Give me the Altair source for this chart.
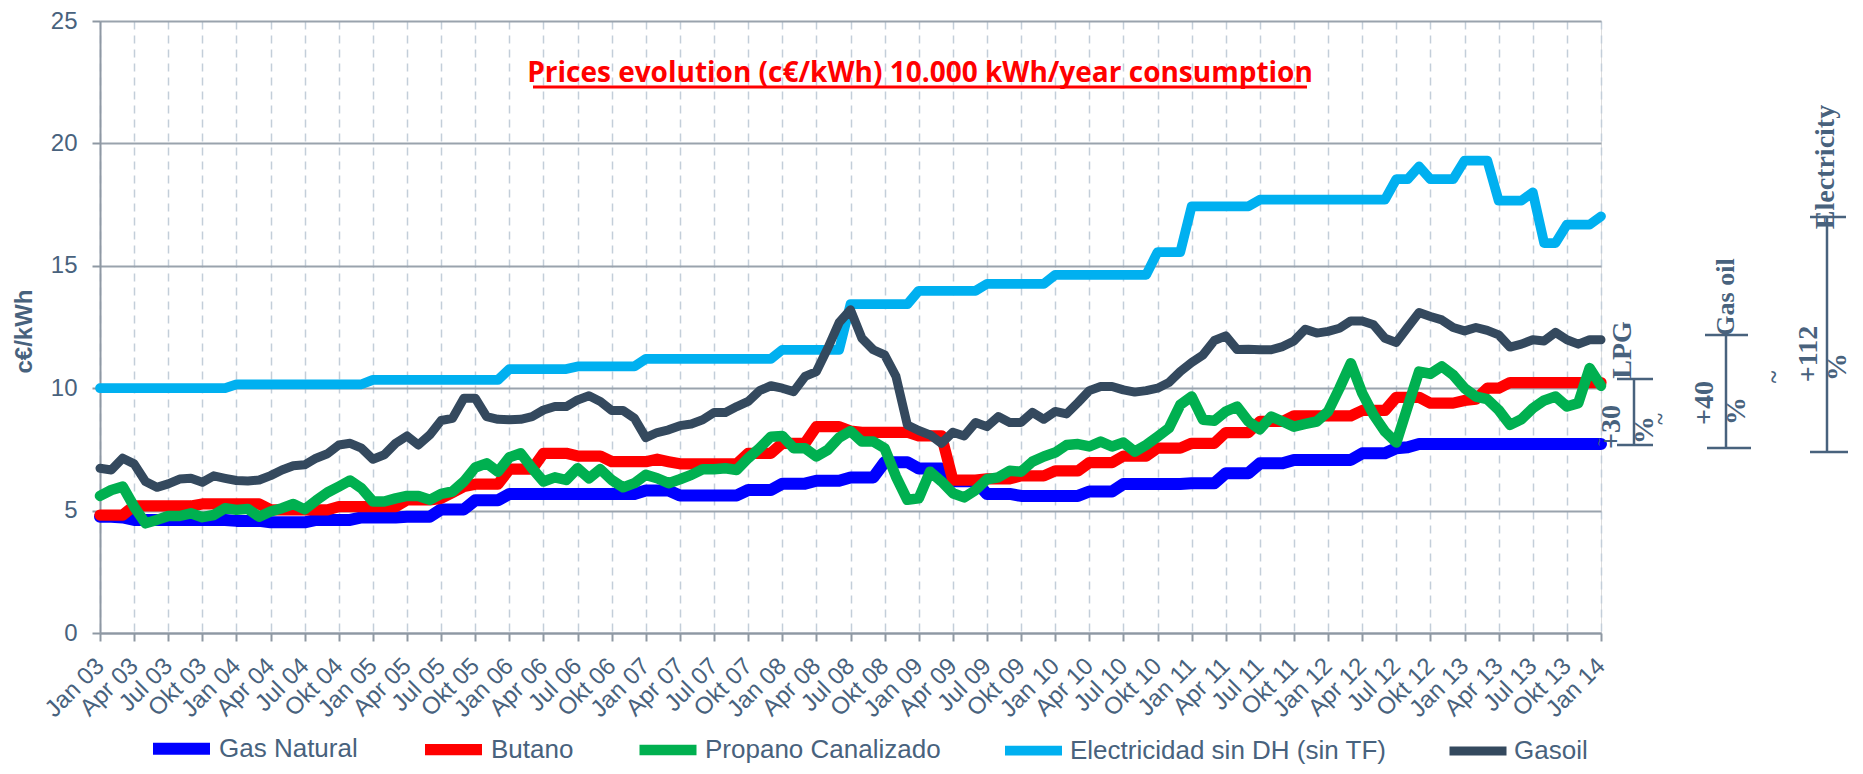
import altair as alt
import pandas as pd

# ---------------- data ----------------
tick_labels = [
    "Jan 03", "Apr 03", "Jul 03", "Okt 03", "Jan 04", "Apr 04", "Jul 04", "Okt 04",
    "Jan 05", "Apr 05", "Jul 05", "Okt 05", "Jan 06", "Apr 06", "Jul 06", "Okt 06",
    "Jan 07", "Apr 07", "Jul 07", "Okt 07", "Jan 08", "Apr 08", "Jul 08", "Okt 08",
    "Jan 09", "Apr 09", "Jul 09", "Okt 09", "Jan 10", "Apr 10", "Jul 10", "Okt 10",
    "Jan 11", "Apr 11", "Jul 11", "Okt 11", "Jan 12", "Apr 12", "Jul 12", "Okt 12",
    "Jan 13", "Apr 13", "Jul 13", "Okt 13", "Jan 14",
]

series_names = ["Gas Natural", "Butano", "Propano Canalizado",
                "Electricidad sin DH (sin TF)", "Gasoil"]

# monthly values, Jan 03 ... Jan 14 (133 months), one row per year
gas_natural = [
    4.75, 4.75, 4.72, 4.62, 4.62, 4.62, 4.62, 4.62, 4.62, 4.62, 4.62, 4.62,
    4.58, 4.58, 4.58, 4.52, 4.52, 4.52, 4.52, 4.62, 4.62, 4.62, 4.62, 4.72,
    4.72, 4.72, 4.72, 4.75, 4.75, 4.75, 5.05, 5.05, 5.05, 5.42, 5.42, 5.42,
    5.68, 5.68, 5.68, 5.68, 5.68, 5.68, 5.68, 5.68, 5.68, 5.68, 5.68, 5.68,
    5.82, 5.82, 5.82, 5.62, 5.62, 5.62, 5.62, 5.62, 5.62, 5.84, 5.84, 5.84,
    6.10, 6.10, 6.10, 6.22, 6.22, 6.22, 6.35, 6.35, 6.35, 6.98, 6.98, 6.98,
    6.72, 6.72, 6.72, 6.20, 6.20, 6.20, 5.68, 5.68, 5.68, 5.60, 5.60, 5.60,
    5.60, 5.60, 5.60, 5.78, 5.78, 5.78, 6.09, 6.09, 6.09, 6.09, 6.09, 6.09,
    6.12, 6.12, 6.12, 6.53, 6.53, 6.53, 6.93, 6.93, 6.93, 7.07, 7.07, 7.07,
    7.07, 7.07, 7.07, 7.34, 7.34, 7.34, 7.55, 7.59, 7.72, 7.72, 7.72, 7.72,
    7.72, 7.72, 7.72, 7.72, 7.72, 7.72, 7.72, 7.72, 7.72, 7.72, 7.72, 7.72,
    7.72,
]
butano = [
    4.82, 4.82, 4.82, 5.19, 5.19, 5.19, 5.19, 5.19, 5.19, 5.27, 5.27, 5.27,
    5.27, 5.27, 5.27, 5.03, 5.03, 5.03, 5.03, 5.03, 5.03, 5.16, 5.16, 5.16,
    5.16, 5.16, 5.16, 5.44, 5.44, 5.44, 5.50, 5.74, 5.98, 6.08, 6.08, 6.08,
    6.69, 6.69, 6.69, 7.34, 7.34, 7.34, 7.23, 7.23, 7.23, 7.00, 7.00, 7.00,
    7.00, 7.10, 7.00, 6.91, 6.91, 6.91, 6.91, 6.91, 6.91, 7.34, 7.34, 7.34,
    7.75, 7.75, 7.75, 8.43, 8.43, 8.43, 8.25, 8.20, 8.20, 8.20, 8.20, 8.20,
    8.05, 8.05, 8.05, 6.25, 6.25, 6.25, 6.30, 6.30, 6.30, 6.42, 6.42, 6.42,
    6.62, 6.62, 6.62, 6.96, 6.96, 6.96, 7.23, 7.23, 7.23, 7.55, 7.55, 7.55,
    7.75, 7.75, 7.75, 8.19, 8.19, 8.19, 8.64, 8.64, 8.64, 8.87, 8.87, 8.87,
    8.87, 8.87, 8.87, 9.09, 9.09, 9.09, 9.63, 9.63, 9.63, 9.39, 9.39, 9.39,
    9.50, 9.55, 10.0, 10.0, 10.23, 10.23, 10.23, 10.23, 10.23, 10.23, 10.23, 10.23,
    10.23,
]
propano = [
    5.60, 5.84, 5.98, 5.16, 4.48, 4.62, 4.78, 4.78, 4.89, 4.73, 4.82, 5.10,
    5.03, 5.07, 4.75, 4.96, 5.10, 5.27, 5.05, 5.41, 5.74, 5.98, 6.23, 5.91,
    5.37, 5.37, 5.50, 5.60, 5.60, 5.44, 5.68, 5.78, 6.19, 6.76, 6.93, 6.59,
    7.18, 7.34, 6.73, 6.19, 6.36, 6.25, 6.73, 6.32, 6.69, 6.25, 5.95, 6.12,
    6.46, 6.32, 6.12, 6.28, 6.46, 6.69, 6.69, 6.73, 6.66, 7.14, 7.55, 8.02,
    8.05, 7.55, 7.55, 7.21, 7.48, 7.98, 8.25, 7.82, 7.82, 7.55, 6.39, 5.44,
    5.50, 6.59, 6.19, 5.71, 5.54, 5.84, 6.28, 6.36, 6.63, 6.59, 7.00, 7.21,
    7.37, 7.68, 7.72, 7.62, 7.82, 7.62, 7.78, 7.41, 7.68, 8.02, 8.37, 9.32,
    9.66, 8.71, 8.67, 9.05, 9.25, 8.64, 8.32, 8.84, 8.64, 8.43, 8.54, 8.64,
    9.05, 10.0, 11.02, 9.80, 8.91, 8.23, 7.78, 9.25, 10.68, 10.59, 10.89, 10.54,
    10.0, 9.66, 9.55, 9.11, 8.50, 8.73, 9.18, 9.50, 9.66, 9.25, 9.39, 10.82,
    10.10,
]
electricidad = [
    10.0, 10.0, 10.0, 10.0, 10.0, 10.0, 10.0, 10.0, 10.0, 10.0, 10.0, 10.0,
    10.16, 10.16, 10.16, 10.16, 10.16, 10.16, 10.16, 10.16, 10.16, 10.16, 10.16, 10.16,
    10.34, 10.34, 10.34, 10.34, 10.34, 10.34, 10.34, 10.34, 10.34, 10.34, 10.34, 10.34,
    10.78, 10.78, 10.78, 10.78, 10.78, 10.78, 10.89, 10.89, 10.89, 10.89, 10.89, 10.89,
    11.2, 11.2, 11.2, 11.2, 11.2, 11.2, 11.2, 11.2, 11.2, 11.2, 11.2, 11.2,
    11.57, 11.57, 11.57, 11.57, 11.57, 11.57, 13.43, 13.43, 13.43, 13.43, 13.43, 13.43,
    13.98, 13.98, 13.98, 13.98, 13.98, 13.98, 14.26, 14.26, 14.26, 14.26, 14.26, 14.26,
    14.63, 14.63, 14.63, 14.63, 14.63, 14.63, 14.63, 14.63, 14.63, 15.56, 15.56, 15.56,
    17.43, 17.43, 17.43, 17.43, 17.43, 17.43, 17.7, 17.7, 17.7, 17.7, 17.7, 17.7,
    17.7, 17.7, 17.7, 17.7, 17.7, 17.7, 18.54, 18.54, 19.06, 18.54, 18.54, 18.54,
    19.3, 19.3, 19.3, 17.66, 17.66, 17.66, 18.0, 15.93, 15.93, 16.68, 16.68, 16.68,
    17.02,
]
gasoil = [
    6.73, 6.66, 7.14, 6.91, 6.19, 5.95, 6.09, 6.29, 6.32, 6.16, 6.42, 6.32,
    6.23, 6.21, 6.25, 6.43, 6.66, 6.83, 6.87, 7.14, 7.32, 7.68, 7.75, 7.55,
    7.10, 7.28, 7.75, 8.05, 7.68, 8.09, 8.68, 8.77, 9.59, 9.59, 8.84, 8.73,
    8.71, 8.73, 8.84, 9.11, 9.25, 9.25, 9.52, 9.69, 9.46, 9.09, 9.09, 8.77,
    7.98, 8.19, 8.30, 8.47, 8.54, 8.71, 9.01, 9.01, 9.25, 9.46, 9.90, 10.10,
    10.0, 9.86, 10.48, 10.68, 11.63, 12.68, 13.2, 12.04, 11.57, 11.36, 10.48, 8.50,
    8.27, 8.09, 7.75, 8.20, 8.05, 8.60, 8.43, 8.84, 8.60, 8.60, 9.01, 8.73,
    9.05, 8.95, 9.41, 9.90, 10.07, 10.07, 9.93, 9.84, 9.90, 10.0, 10.23, 10.68,
    11.05, 11.36, 11.95, 12.14, 11.58, 11.59, 11.57, 11.57, 11.70, 11.93, 12.41, 12.25,
    12.32, 12.45, 12.75, 12.75, 12.59, 12.04, 11.87, 12.49, 13.09, 12.93, 12.79, 12.48,
    12.34, 12.48, 12.36, 12.18, 11.68, 11.80, 11.98, 11.93, 12.28, 11.98, 11.80, 11.98,
    11.98,
]

title_text = " Prices evolution (c€/kWh) 10.000 kWh/year consumption"
y_title = "c€/kWh"

# ---------------- style ----------------
colors = ["#0000FF", "#FF0000", "#00B050", "#00B0F0", "#34495E"]
widths = [12, 9, 7, 8, 7]
SLATE = "#48627D"
AXIS_GRAY = "#8E98A3"
GRID_GRAY = "#9AA3AD"
VGRID = "#C3CED9"

rows = []
for name, vals in zip(series_names, [gas_natural, butano, propano, electricidad, gasoil]):
    for i, v in enumerate(vals):
        rows.append({"serie": name, "mes": i, "valor": v})
df = pd.DataFrame(rows)

label_js = "[" + ",".join("'" + t + "'" for t in tick_labels) + "]"
n_last = len(gas_natural) - 1

lines = alt.Chart(df).mark_line(strokeJoin="round", strokeCap="round").encode(
    x=alt.X(
        "mes:Q",
        scale=alt.Scale(domain=[0, n_last], nice=False, zero=False),
        axis=alt.Axis(
            values=list(range(0, n_last + 1, 3)),
            labelExpr=label_js + "[round(datum.value / 3)]",
            title=None,
            labelAngle=315,
            labelAlign="right",
            labelBaseline="middle",
            labelPadding=21,
            labelFont="Liberation Sans",
            labelFontSize=24,
            labelColor=SLATE,
            labelOverlap=False,
            labelFlush=False,
            tickSize=8,
            tickColor=AXIS_GRAY,
            tickWidth=2,
            domainColor=AXIS_GRAY,
            domainWidth=2,
            grid=True,
            gridColor=VGRID,
            gridDash=[8, 6],
            gridWidth=1.5,
        ),
    ),
    y=alt.Y(
        "valor:Q",
        scale=alt.Scale(domain=[0, 25], nice=False),
        axis=alt.Axis(
            values=[0, 5, 10, 15, 20, 25],
            title=y_title,
            titleFont="Liberation Sans",
            titleFontSize=24,
            titleFontWeight="bold",
            titleColor=SLATE,
            titleAngle=270,
            titleX=-76,
            titleY=310,
            titleAlign="center",
            titleBaseline="middle",
            labelFont="Liberation Sans",
            labelFontSize=24,
            labelColor=SLATE,
            labelPadding=15,
            tickSize=8,
            tickColor=AXIS_GRAY,
            tickWidth=2,
            domainColor=AXIS_GRAY,
            domainWidth=2,
            grid=True,
            gridColor=GRID_GRAY,
            gridWidth=2,
        ),
    ),
    color=alt.Color(
        "serie:N",
        scale=alt.Scale(domain=series_names, range=colors),
        legend=alt.Legend(
            title=None,
            orient="none",
            legendX=47,
            legendY=693,
            padding=0,
            direction="horizontal",
            symbolType="stroke",
            symbolSize=3249,
            symbolStrokeWidth=11,
            labelFont="Liberation Sans",
            labelFontSize=26,
            labelColor=SLATE,
            labelOffset=3,
            columnPadding=44,
            labelLimit=600,
        ),
    ),
    strokeWidth=alt.StrokeWidth(
        "serie:N", scale=alt.Scale(domain=series_names, range=widths), legend=None
    ),
)


def txt(s, x, y, size=27, angle=270, color=SLATE, font="Liberation Serif",
        weight="bold", baseline="middle"):
    return alt.Chart(alt.Data(values=[{"t": s}])).mark_text(
        font=font, fontSize=size, fontWeight=weight, color=color, angle=angle,
        align="center", baseline=baseline,
    ).encode(text="t:N", x=alt.value(x), y=alt.value(y))


def rule(x1, x2, y1, y2, color=SLATE, w=2.5):
    return alt.Chart(alt.Data(values=[{"a": 1}])).mark_rule(
        color=color, strokeWidth=w
    ).encode(x=alt.value(x1), x2=alt.value(x2), y=alt.value(y1), y2=alt.value(y2))


title_mark = txt(title_text, 820, 61, size=28, angle=0, color="#FF0000",
                 font="Open Sans", baseline="alphabetic")
underline = rule(433, 1207, 66, 66, color="#FF0000", w=3)

dl = -20   # LPG group shift
dg = -8    # Gas oil group shift
annotations = [
    txt("LPG", 1543 + dl, 329, size=28),
    txt("+30", 1532 + dl, 406, size=28),
    txt("%", 1565 + dl, 409, size=28),
    txt("~", 1580 + dl, 398, size=22),
    rule(1554 + dl, 1554 + dl, 358, 424),
    rule(1537 + dl, 1573 + dl, 358, 358),
    rule(1537 + dl, 1573 + dl, 424, 424),
    txt("Gas oil", 1634 + dg, 276, size=26),
    txt("+40", 1613 + dg, 382, size=28),
    txt("%", 1645 + dg, 390, size=28),
    rule(1634 + dg, 1634 + dg, 314, 427),
    rule(1613 + dg, 1656 + dg, 314, 314),
    rule(1615 + dg, 1659 + dg, 427, 427),
    txt("~", 1674, 356, size=24),
    txt("Electricity", 1726, 146, size=28),
    txt("+112", 1709, 333, size=28),
    txt("%", 1738, 346, size=28),
    rule(1727, 1727, 196, 431),
    rule(1710, 1746, 196, 196),
    rule(1710, 1748, 431, 431),
    txt("~", 1500, 421, size=14, font="Liberation Sans", weight="normal"),
]

chart = alt.layer(lines, title_mark, underline, *annotations).properties(
    width=1501,
    height=612,
    autosize=alt.AutoSizeParams(type="none"),
    padding={"left": 92, "top": 13, "right": 254, "bottom": 133},
).configure_view(stroke=None).configure(background="white")

chart.save("out.html", embed_options={"renderer": "svg", "actions": False})
